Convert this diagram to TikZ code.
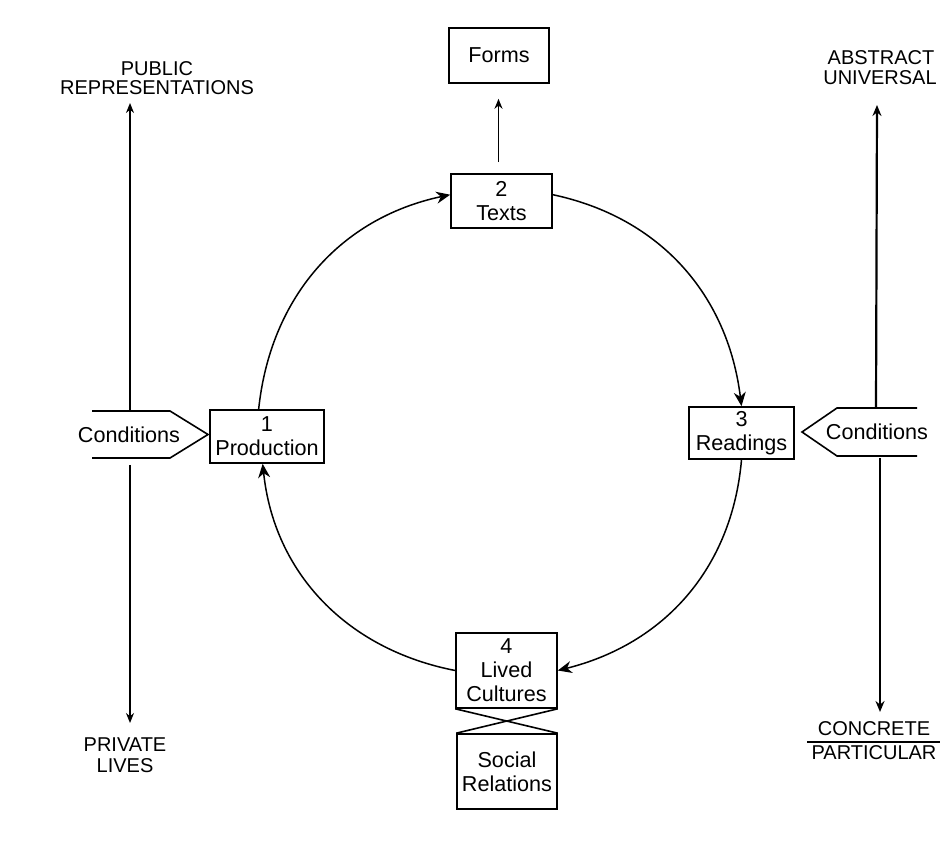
\documentclass[tikz,border=0pt]{standalone}
\usepackage{fontspec}
\setmainfont{Liberation Sans}
\usetikzlibrary{arrows.meta}
\begin{document}
\begin{tikzpicture}[x=0.5pt,y=-0.5pt,
  every node/.style={font=\fontsize{10.8}{12}\selectfont},
  box/.style={draw, line width=0.8pt, align=center, inner sep=0pt},
  lab/.style={align=center, inner sep=0pt},
  caplab/.style={align=center, inner sep=0pt, font=\fontsize{10}{12}\selectfont},
  cyc/.style={line width=0.75pt, -{Stealth[length=7pt,width=6pt]}},
  axisarrow/.style={line width=0.75pt, -{Stealth[length=5pt,width=4pt]}},
  heavyarrow/.style={line width=1.1pt, -{Stealth[length=5.5pt,width=4.5pt]}},
  shapeline/.style={line width=0.8pt}
]
\useasboundingbox (0,0) rectangle (948,855);

% boxes
\node[box, minimum width=50pt, minimum height=27.5pt] (forms) at (499,55.5) {Forms};
\node[box, minimum width=50.5pt, minimum height=27pt] (texts) at (501.5,201) {2\\Texts};
\node[box, minimum width=57pt, minimum height=26.5pt] (prod) at (267,436.5) {1\\Production};
\node[box, minimum width=52.5pt, minimum height=26pt] (read) at (741.5,433) {3\\Readings};
\node[box, minimum width=50.5pt, minimum height=37.5pt] (lived) at (506.5,670.5) {4\\Lived\\Cultures};
\node[box, minimum width=50pt, minimum height=37.5pt] (social) at (507,771.5) {Social\\Relations};

% cycle
\draw[cyc] (prod.107) to[out=84, in=192] (texts.173);
\draw[cyc] (texts.7) to[out=-12, in=97] (read.north);
\draw[cyc] (read.south) to[out=-95, in=14] (lived.east);
\draw[cyc] (lived.west) to[out=169, in=-84] (prod.261);

% forms arrow
\draw[axisarrow] ([xshift=-1.5pt,yshift=5.5pt]texts.north) -- ([xshift=-1.5pt,yshift=-7.5pt]texts.north |- forms.south);

% lived cultures / social relations cross
\draw[shapeline] (lived.south west) -- (social.north east);
\draw[shapeline] (lived.south east) -- (social.north west);

% left conditions
\draw[shapeline] (92,411) -- (170,411) -- (208,434.5) -- (170,458) -- (92,458);
\node[lab] (lcond) at (129,434.5) {Conditions};
% right conditions
\draw[shapeline] (917,408) -- (837,408) -- (802,432) -- (837,456) -- (917,456);
\node[lab] (rcond) at (877,432) {Conditions};

% axis labels
\node[caplab] (pub) at (157,69) {PUBLIC};
\node[caplab] (rep) at (157,88) {REPRESENTATIONS};
\node[caplab] (priv) at (125,745) {PRIVATE};
\node[caplab] (lives) at (125,766) {LIVES};
\node[caplab] (abs) at (881,58) {ABSTRACT};
\node[caplab] (univ) at (880,78) {UNIVERSAL};
\node[caplab] (conc) at (874,729) {CONCRETE};
\node[caplab] (part) at (874,753) {PARTICULAR};
\coordinate (ul1) at (807,742);
\coordinate (ul2) at (940,742);
\draw[line width=0.6pt] (ul1) -- (ul2);

% axis arrows
\coordinate (lt1) at (130,411); \coordinate (lt2) at (130,103);
\coordinate (lb1) at (130,465); \coordinate (lb2) at (130,723);
\coordinate (rt1) at (876,408); \coordinate (rt2) at (877,105);
\coordinate (rb1) at (880,458); \coordinate (rb2) at (880,712);
\draw[axisarrow] (lt1) -- (lt2);
\draw[axisarrow] (lb1) -- (lb2);
\draw[heavyarrow] (rt1) -- (rt2);
\draw[heavyarrow] (rb1) -- (rb2);
\end{tikzpicture}
\end{document}
